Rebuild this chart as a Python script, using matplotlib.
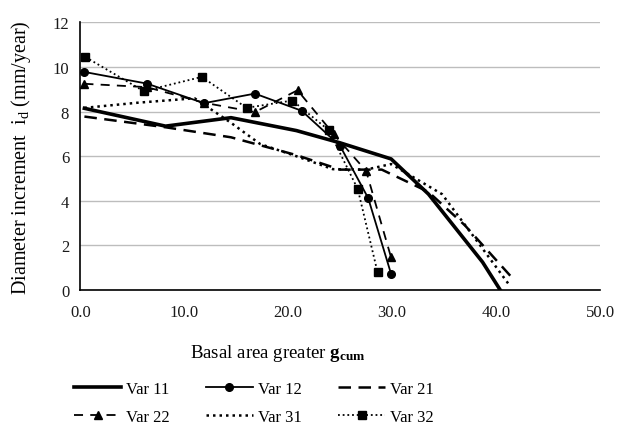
import numpy as np
import matplotlib.pyplot as plt

plt.rcParams['font.family'] = ['Liberation Serif', 'DejaVu Serif']
plt.rcParams['mathtext.fontset'] = 'custom'
plt.rcParams['mathtext.rm'] = 'Liberation Serif'
plt.rcParams['mathtext.it'] = 'Liberation Serif:italic'
plt.rcParams['mathtext.bf'] = 'Liberation Serif:bold'

# basal area (x) and diameter increment (y) per variant
x11 = [0.4, 8.2, 14.5, 20.8, 25.0, 29.9, 33.5, 38.7, 40.4]
y11 = [8.15, 7.35, 7.73, 7.15, 6.6, 5.88, 4.3, 1.25, 0.0]

x12 = [0.4, 6.4, 11.9, 16.8, 21.3, 25.0, 27.7, 29.9]
y12 = [9.78, 9.26, 8.38, 8.81, 8.04, 6.46, 4.12, 0.72]

x21 = [0.4, 8.2, 14.5, 20.8, 25.0, 29.0, 33.5, 37.0, 41.5]
y21 = [7.78, 7.3, 6.85, 6.05, 5.4, 5.4, 4.4, 2.9, 0.57]

x22 = [0.4, 6.4, 11.9, 16.8, 20.9, 24.4, 27.5, 29.9]
y22 = [9.25, 9.1, 8.4, 7.98, 8.96, 6.98, 5.34, 1.46]

x31 = [0.4, 5.5, 11.0, 14.5, 17.3, 20.8, 24.3, 27.5, 29.9, 34.8, 38.0, 41.2]
y31 = [8.17, 8.4, 8.6, 7.5, 6.55, 6.0, 5.42, 5.4, 5.65, 4.3, 2.3, 0.27]

x32 = [0.5, 6.1, 11.7, 16.0, 20.4, 23.9, 26.7, 28.6]
y32 = [10.45, 8.92, 9.56, 8.17, 8.5, 7.17, 4.52, 0.79]

fig = plt.figure(figsize=(6.27, 4.27), dpi=100)
ax = fig.add_axes([0.128, 0.3185, 0.829, 0.6265])

l11, = ax.plot(x11, y11, '-', color='black', lw=2.6, label='Var 11')
l12, = ax.plot(x12, y12, '-', color='black', lw=1.3, marker='o', ms=5.5, label='Var 12')
l21, = ax.plot(x21, y21, color='black', lw=1.8, ls=(0, (5, 3)), label='Var 21')
l22, = ax.plot(x22, y22, color='black', lw=1.3, ls=(0, (5, 4)), marker='^', ms=6, label='Var 22')
l31, = ax.plot(x31, y31, color='black', lw=1.8, ls=(0, (1, 1.6)), label='Var 31')
l32, = ax.plot(x32, y32, color='black', lw=1.3, ls=(0, (1, 1.6)), marker='s', ms=6, label='Var 32')

ax.set_xlim(0, 50)
ax.set_ylim(0, 12)
ax.set_xticks(np.arange(0, 51, 10))
ax.set_xticklabels([f'{v:.1f}' for v in np.arange(0, 51, 10)])
ax.set_yticks(np.arange(0, 13, 2))
ax.tick_params(length=0, labelsize=12, colors='#1a1a1a')
ax.tick_params(axis='x', pad=10)
ax.tick_params(axis='y', pad=8)
ax.grid(axis='y', color='#bdbdbd', lw=1)
ax.set_axisbelow(True)
for s in ['top', 'right']:
    ax.spines[s].set_visible(False)
ax.spines['left'].set_linewidth(1.2)
ax.spines['bottom'].set_linewidth(1.2)

ax.set_ylabel(r'Diameter increment  i$_\mathrm{d}$ (mm/year)', fontsize=14.5, labelpad=14)
fig.text(190 / 627, 1 - 353 / 427, r'Basal area greater $\mathbf{g}_{\mathbf{cum}}$',
         fontsize=13.6, ha='left', va='center')

# legend filled column by column, so order gives rows 11/12/21 and 22/31/32
order = [l11, l22, l12, l31, l21, l32]
fig.legend(handles=order, labels=[h.get_label() for h in order],
           loc='center', bbox_to_anchor=(0.405, 1 - 404 / 427), ncol=3, frameon=False,
           fontsize=12, handlelength=2.8, columnspacing=2.2, handletextpad=0.3,
           labelspacing=0.75)

fig.savefig('out.png', dpi=100)
